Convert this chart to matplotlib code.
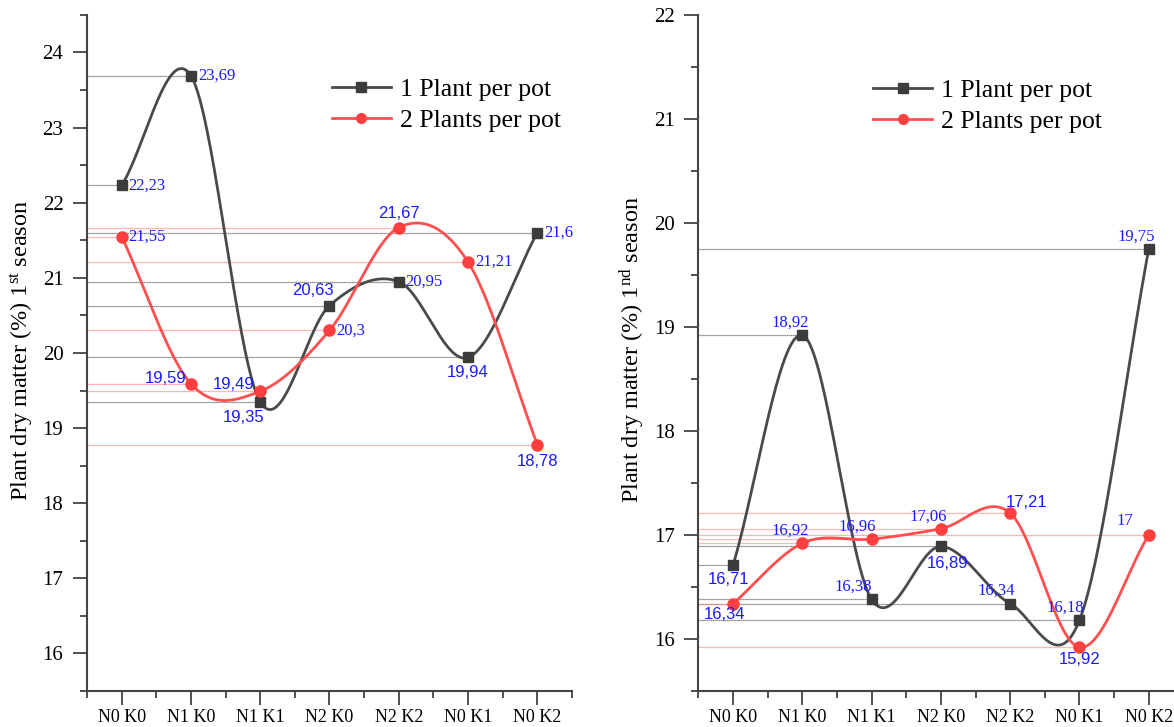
import numpy as np
import matplotlib
matplotlib.use("Agg")
import matplotlib.pyplot as plt
from matplotlib.lines import Line2D
from matplotlib.ticker import MultipleLocator

plt.rcParams['font.family'] = ['Liberation Serif', 'DejaVu Serif']
plt.rcParams['mathtext.fontset'] = 'custom'
plt.rcParams['mathtext.rm'] = 'Liberation Serif'
plt.rcParams['mathtext.it'] = 'Liberation Serif:italic'

categories = ["N0 K0", "N1 K0", "N1 K1", "N2 K0", "N2 K2", "N0 K1", "N0 K2"]
season1_one_plant = [22.23, 23.69, 19.35, 20.63, 20.95, 19.94, 21.6]
season1_two_plants = [21.55, 19.59, 19.49, 20.3, 21.67, 21.21, 18.78]
season2_one_plant = [16.71, 18.92, 16.38, 16.89, 16.34, 16.18, 19.75]
season2_two_plants = [16.34, 16.92, 16.96, 17.06, 17.21, 15.92, 17.0]
labels = ["1 Plant per pot", "2 Plants per pot"]

BLACK_LINE = '#4a4a4a'
BLACK_MARK = '#3c3c3c'
RED_LINE = '#ff4f4f'
RED_MARK = '#ff3f3f'
BLACK_DROP = '#6e6e6e'
RED_DROP = '#ff8c8c'
LABEL_BLUE = '#1a1aff'


def smooth_curve(x, y, per_seg=60):
    """Catmull-Rom style spline through the points (line rendering only)."""
    x = np.asarray(x, float)
    y = np.asarray(y, float)
    k = len(x)
    m = np.zeros(k)
    m[0] = (y[1] - y[0]) / (x[1] - x[0])
    m[-1] = (y[-1] - y[-2]) / (x[-1] - x[-2])
    for i in range(1, k - 1):
        m[i] = (y[i + 1] - y[i - 1]) / (x[i + 1] - x[i - 1])
    xs_all, ys_all = [], []
    for i in range(k - 1):
        h = x[i + 1] - x[i]
        t = np.linspace(0, 1, per_seg, endpoint=(i == k - 2))
        h00 = 2 * t ** 3 - 3 * t ** 2 + 1
        h10 = t ** 3 - 2 * t ** 2 + t
        h01 = -2 * t ** 3 + 3 * t ** 2
        h11 = t ** 3 - t ** 2
        xs_all.append(x[i] + t * h)
        ys_all.append(h00 * y[i] + h10 * h * m[i] + h01 * y[i + 1] + h11 * h * m[i + 1])
    return np.concatenate(xs_all), np.concatenate(ys_all)


def put_labels(ax, x, s, placement):
    for xi, yi, (dx, dy, ha, fam) in zip(x, s, placement):
        txt = ("%g" % yi).replace('.', ',')
        ax.annotate(txt, (xi, yi), xytext=(dx, dy), textcoords='offset points',
                    ha=ha, va='center', color=LABEL_BLUE, fontsize=12,
                    family='Liberation Serif' if fam == 'serif' else 'Liberation Sans',
                    zorder=5)


def draw_panel(ax, s1, s2, lab1, lab2, ylim):
    x = np.arange(1, len(categories) + 1)
    for xi, yi in zip(x, s1):
        ax.plot([0.5, xi], [yi, yi], color=BLACK_DROP, lw=0.9, ls=(0, (1, 0.6)), zorder=1)
    for xi, yi in zip(x, s2):
        ax.plot([0.5, xi], [yi, yi], color=RED_DROP, lw=0.9, ls=(0, (1, 0.6)), zorder=1)
    xs, ys = smooth_curve(x, s1)
    ax.plot(xs, ys, color=BLACK_LINE, lw=2.0, zorder=3)
    ax.plot(x, s1, ls='none', marker='s', ms=7, color=BLACK_MARK, zorder=4)
    xs, ys = smooth_curve(x, s2)
    ax.plot(xs, ys, color=RED_LINE, lw=2.0, zorder=3)
    ax.plot(x, s2, ls='none', marker='o', ms=8, color=RED_MARK, zorder=4)

    put_labels(ax, x, s1, lab1)
    put_labels(ax, x, s2, lab2)

    ax.set_xlim(0.5, 7.5)
    ax.set_ylim(*ylim)
    ax.set_xticks(x)
    ax.set_xticklabels(categories)
    ax.set_xticks(np.arange(0.5, 8.0, 1.0), minor=True)
    ax.yaxis.set_major_locator(MultipleLocator(1))
    ax.yaxis.set_minor_locator(MultipleLocator(0.5))
    ax.tick_params(axis='both', which='major', direction='out', length=10, width=1.2,
                   color='#333333')
    ax.tick_params(axis='x', which='major', labelsize=13, pad=3)
    ax.tick_params(axis='y', which='major', labelsize=15, pad=7)
    ax.tick_params(axis='both', which='minor', direction='out', length=5, width=1.2,
                   color='#333333')
    for s in ['top', 'right']:
        ax.spines[s].set_visible(False)
    for s in ['left', 'bottom']:
        ax.spines[s].set_color('#444444')
        ax.spines[s].set_linewidth(1.5)

    handles = [Line2D([], [], color=BLACK_LINE, lw=2, marker='s', ms=7, mfc=BLACK_MARK, mec=BLACK_MARK),
               Line2D([], [], color=RED_LINE, lw=2, marker='o', ms=7, mfc=RED_MARK, mec=RED_MARK)]
    return handles


fig = plt.figure(figsize=(11.74, 7.27), dpi=100)
ax1 = fig.add_axes([0.0741, 0.0495, 0.4131, 0.930])
ax2 = fig.add_axes([0.5949, 0.0495, 0.4131, 0.930])

# (dx, dy, ha, font) label placements in points
lab_s1_a = [(5, 0, 'left', 'serif'), (5, 0, 'left', 'serif'), (-12, -11, 'center', 'sans'),
            (-12, 11, 'center', 'sans'), (5, 0, 'left', 'serif'), (0, -11, 'center', 'sans'),
            (5, 0, 'left', 'serif')]
lab_s1_b = [(5, 0, 'left', 'serif'), (-18, 4, 'center', 'sans'), (-19, 5, 'center', 'sans'),
            (5, 0, 'left', 'serif'), (0, 10, 'center', 'sans'), (5, 0, 'left', 'serif'),
            (0, -12, 'center', 'sans')]
lab_s2_a = [(-3, -10, 'center', 'sans'), (-9, 9, 'center', 'serif'), (-13, 9, 'center', 'serif'),
            (5, -12, 'center', 'sans'), (-10, 9, 'center', 'serif'), (-10, 9, 'center', 'serif'),
            (-9, 9, 'center', 'serif')]
lab_s2_b = [(-6, -8, 'center', 'sans'), (-9, 9, 'center', 'serif'), (-10, 9, 'center', 'serif'),
            (-9, 9, 'center', 'serif'), (12, 8, 'center', 'sans'), (0, -9, 'center', 'sans'),
            (-17, 10, 'center', 'serif')]

h = draw_panel(ax1, season1_one_plant, season1_two_plants, lab_s1_a, lab_s1_b, (15.5, 24.5))
draw_panel(ax2, season2_one_plant, season2_two_plants, lab_s2_a, lab_s2_b, (15.5, 22))

for ax, bx, by in [(ax1, 0.505, 0.906), (ax2, 0.36, 0.905)]:
    ax.legend(h, labels, loc='upper left', bbox_to_anchor=(bx, by), frameon=False,
              fontsize=18.5, handlelength=2.3, handletextpad=0.35, labelspacing=0.3,
              borderpad=0, borderaxespad=0)

fig.text(22 / 1174, 1 - 350 / 727, "Plant dry matter (%) 1$^{\\mathrm{st}}$ season",
         rotation=90, ha='center', va='center', fontsize=17.5)
fig.text(632 / 1174, 1 - 350 / 727, "Plant dry matter (%) 1$^{\\mathrm{nd}}$ season",
         rotation=90, ha='center', va='center', fontsize=17.5)

fig.savefig("out.png", dpi=100)
